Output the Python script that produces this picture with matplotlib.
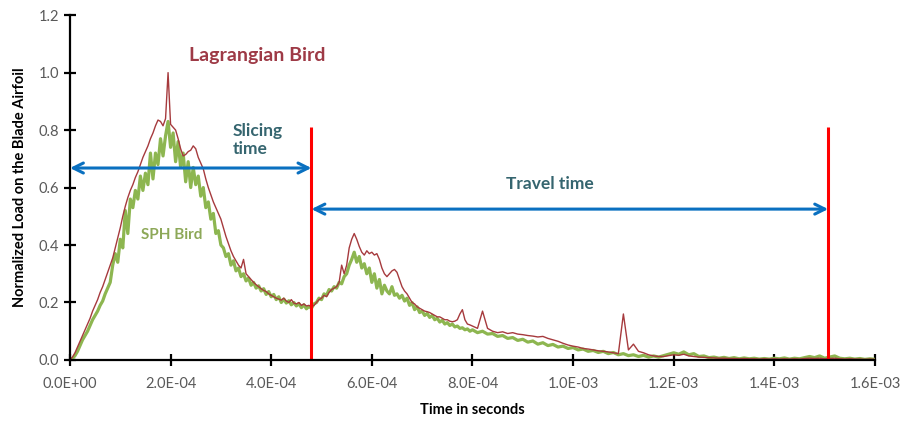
import numpy as np
import matplotlib
matplotlib.use("Agg")
import matplotlib.pyplot as plt
from matplotlib.ticker import FuncFormatter, MultipleLocator

plt.rcParams["font.family"] = ["Lato", "DejaVu Sans"]

# -----------------------------
# data (time in 1e-4 s units)
# step 0.05 for 0..7.95, step 0.1 for 8.0..16.0
# -----------------------------
lagr_a = [
    0.000, 0.010, 0.025, 0.045, 0.065, 0.085, 0.105, 0.125, 0.145, 0.170,
    0.190, 0.210, 0.235, 0.255, 0.280, 0.305, 0.330, 0.355, 0.390, 0.425,
    0.460, 0.500, 0.535, 0.565, 0.590, 0.610, 0.635, 0.655, 0.680, 0.705,
    0.725, 0.745, 0.770, 0.790, 0.815, 0.835, 0.830, 0.815, 0.840, 1.000,
    0.820, 0.810, 0.800, 0.770, 0.735, 0.710, 0.715, 0.725, 0.730, 0.745,
    0.735, 0.705, 0.685, 0.665, 0.630, 0.600, 0.575, 0.550, 0.530, 0.510,
    0.490, 0.460, 0.430, 0.405, 0.380, 0.360, 0.345, 0.330, 0.320, 0.350,
    0.300, 0.290, 0.280, 0.270, 0.262, 0.255, 0.248, 0.242, 0.238, 0.230,
    0.225, 0.220, 0.215, 0.212, 0.208, 0.215, 0.205, 0.200, 0.210, 0.198,
    0.195, 0.200, 0.190, 0.195, 0.188, 0.190, 0.185, 0.190, 0.200, 0.210,
    0.215, 0.225, 0.220, 0.235, 0.245, 0.250, 0.255, 0.270, 0.330, 0.300,
    0.330, 0.390, 0.420, 0.440, 0.420, 0.395, 0.375, 0.365, 0.380, 0.370,
    0.375, 0.365, 0.370, 0.350, 0.320, 0.300, 0.290, 0.300, 0.310, 0.315,
    0.305, 0.280, 0.255, 0.240, 0.230, 0.215, 0.200, 0.195, 0.185, 0.180,
    0.175, 0.170, 0.168, 0.165, 0.160, 0.155, 0.150, 0.150, 0.145, 0.140,
    0.140, 0.135, 0.133, 0.135, 0.140, 0.160, 0.175, 0.140, 0.125, 0.122,
]
lagr_b = [
    0.118, 0.110, 0.170, 0.110, 0.100, 0.095, 0.098, 0.092, 0.095, 0.090,
    0.088, 0.085, 0.083, 0.080, 0.082, 0.075, 0.070, 0.065, 0.058, 0.052,
    0.048, 0.045, 0.040, 0.038, 0.035, 0.032, 0.030, 0.028, 0.025, 0.022,
    0.160, 0.035, 0.055, 0.030, 0.025, 0.018, 0.014, 0.012, 0.012, 0.015,
    0.018, 0.016, 0.020, 0.014, 0.012, 0.010, 0.009, 0.008, 0.007, 0.006,
    0.006, 0.005, 0.005, 0.004, 0.005, 0.004, 0.004, 0.003, 0.004, 0.003,
    0.004, 0.003, 0.004, 0.003, 0.004, 0.003, 0.005, 0.006, 0.005, 0.006,
    0.004, 0.005, 0.006, 0.004, 0.003, 0.004, 0.003, 0.003, 0.002, 0.003,
    0.002,
]
sph_a = [
    0.000, 0.005, 0.015, 0.030, 0.050, 0.070, 0.085, 0.100, 0.120, 0.140,
    0.155, 0.170, 0.190, 0.205, 0.230, 0.250, 0.270, 0.330, 0.370, 0.340,
    0.420, 0.390, 0.520, 0.440, 0.560, 0.530, 0.590, 0.560, 0.640, 0.590,
    0.650, 0.610, 0.720, 0.630, 0.720, 0.680, 0.770, 0.710, 0.780, 0.830,
    0.740, 0.790, 0.690, 0.760, 0.670, 0.720, 0.620, 0.690, 0.600, 0.670,
    0.610, 0.640, 0.570, 0.600, 0.530, 0.550, 0.490, 0.510, 0.440, 0.450,
    0.400, 0.390, 0.360, 0.370, 0.330, 0.345, 0.310, 0.320, 0.290, 0.300,
    0.275, 0.285, 0.260, 0.270, 0.250, 0.258, 0.240, 0.248, 0.228, 0.238,
    0.220, 0.228, 0.210, 0.220, 0.200, 0.212, 0.198, 0.206, 0.192, 0.200,
    0.188, 0.196, 0.182, 0.192, 0.178, 0.186, 0.180, 0.195, 0.200, 0.215,
    0.210, 0.230, 0.225, 0.245, 0.240, 0.255, 0.250, 0.270, 0.265, 0.290,
    0.300, 0.330, 0.350, 0.375, 0.340, 0.360, 0.320, 0.335, 0.300, 0.320,
    0.270, 0.300, 0.250, 0.280, 0.230, 0.260, 0.240, 0.230, 0.255, 0.225,
    0.230, 0.215, 0.225, 0.205, 0.215, 0.190, 0.200, 0.175, 0.185, 0.165,
    0.170, 0.155, 0.162, 0.148, 0.155, 0.140, 0.145, 0.132, 0.138, 0.125,
    0.130, 0.120, 0.125, 0.115, 0.118, 0.110, 0.112, 0.105, 0.108, 0.100,
]
sph_b = [
    0.105, 0.095, 0.100, 0.090, 0.092, 0.082, 0.085, 0.075, 0.078, 0.068,
    0.072, 0.062, 0.066, 0.055, 0.060, 0.050, 0.054, 0.045, 0.048, 0.040,
    0.043, 0.035, 0.038, 0.030, 0.033, 0.026, 0.030, 0.022, 0.026, 0.018,
    0.022, 0.015, 0.018, 0.012, 0.016, 0.010, 0.014, 0.010, 0.015, 0.020,
    0.025, 0.020, 0.028, 0.018, 0.022, 0.012, 0.014, 0.008, 0.010, 0.006,
    0.009, 0.005, 0.008, 0.004, 0.007, 0.004, 0.006, 0.003, 0.005, 0.003,
    0.006, 0.004, 0.007, 0.003, 0.006, 0.004, 0.008, 0.012, 0.008, 0.014,
    0.006, 0.010, 0.014, 0.006, 0.004, 0.006, 0.003, 0.005, 0.002, 0.004,
    0.002,
]

slice_end = 4.8e-4
travel_end = 1.507e-3


def time_axis(a, b):
    # seconds
    t1 = np.arange(len(a)) * 0.05
    t2 = 8.0 + np.arange(len(b)) * 0.1
    return np.concatenate([t1, t2]) * 1e-4


t_lagr = time_axis(lagr_a, lagr_b)
t_sph = time_axis(sph_a, sph_b)
y_lagr = np.array(lagr_a + lagr_b)
y_sph = np.array(sph_a + sph_b)

# -----------------------------
# plot
# -----------------------------
fig = plt.figure(figsize=(9.05, 4.21), dpi=100)
ax = fig.add_axes([0.0773, 0.145, 0.8895, 0.819])

ax.plot(t_sph, y_sph, color="#8DB650", lw=2.3, zorder=2)
ax.plot(t_lagr, y_lagr, color="#A63A3D", lw=1.0, zorder=3)

ax.vlines([slice_end, travel_end], 0, 0.81, color="#FF0000", lw=2.2, zorder=5)

arrow = dict(arrowstyle="<->", color="#0A70C0", lw=2.2, mutation_scale=18,
             shrinkA=0, shrinkB=0)
ax.annotate("", xy=(0, 0.668), xytext=(slice_end, 0.668), arrowprops=arrow, zorder=4)
ax.annotate("", xy=(slice_end, 0.525), xytext=(travel_end, 0.525), arrowprops=arrow, zorder=4)

ax.text(3.73e-4, 1.061, "Lagrangian Bird", color="#9E3A46", fontsize=14,
        fontweight="bold", ha="center", va="center")
ax.text(3.24e-4, 0.765, "Slicing\ntime", color="#35656F", fontsize=12.5,
        fontweight="bold", ha="left", va="center", linespacing=1.1)
ax.text(9.54e-4, 0.612, "Travel time", color="#35656F", fontsize=12.5,
        fontweight="bold", ha="center", va="center")
ax.text(1.42e-4, 0.435, "SPH Bird", color="#8DA858", fontsize=11,
        fontweight="bold", ha="left", va="center")

ax.set_xlim(0, 1.6e-3)
ax.set_ylim(0, 1.2)
ax.xaxis.set_major_locator(MultipleLocator(2e-4))
ax.yaxis.set_major_locator(MultipleLocator(0.2))
ax.xaxis.set_major_formatter(FuncFormatter(lambda v, p: f"{v:.1E}"))
ax.yaxis.set_major_formatter(FuncFormatter(lambda v, p: f"{v:.1f}"))

for s in ["top", "right"]:
    ax.spines[s].set_visible(False)
for s in ["left", "bottom"]:
    ax.spines[s].set_linewidth(1.6)
    ax.spines[s].set_zorder(6)
ax.tick_params(direction="inout", length=8, width=1.6, labelsize=10.5,
               labelcolor="#595959")
ax.tick_params(axis="x", pad=8)
ax.tick_params(axis="y", pad=4)

ax.set_xlabel("Time in seconds", fontsize=10.5, fontweight="bold", labelpad=9)
ax.set_ylabel("Normalized Load on the Blade Airfoil", fontsize=10.5,
              fontweight="bold", labelpad=8)

fig.savefig("out.png", dpi=100)
